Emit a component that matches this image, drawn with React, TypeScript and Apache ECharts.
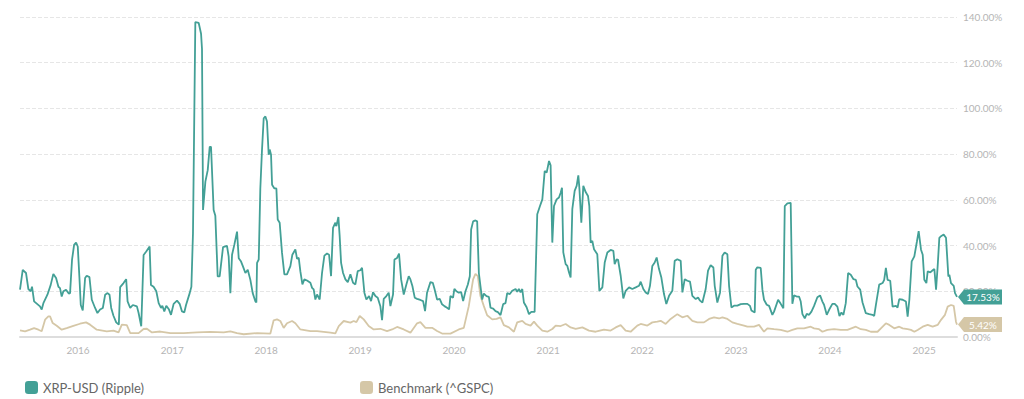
import React, { useEffect, useRef } from "react";
import * as echarts from "echarts";

// Decimal-year dates and rolling volatility (%)
const xrpYears = [
  2015.382, 2015.411, 2015.446, 2015.471, 2015.496, 2015.51, 2015.532, 2015.595, 2015.613, 2015.631,
  2015.674, 2015.709, 2015.737, 2015.766, 2015.791, 2015.808, 2015.826, 2015.844, 2015.872, 2015.901,
  2015.915, 2015.936, 2015.958, 2015.979, 2015.997, 2016.014, 2016.029, 2016.05, 2016.075, 2016.092,
  2016.121, 2016.146, 2016.181, 2016.206, 2016.234, 2016.263, 2016.288, 2016.313, 2016.334, 2016.352,
  2016.376, 2016.405, 2016.433, 2016.447, 2016.483, 2016.511, 2016.526, 2016.554, 2016.582, 2016.625,
  2016.643, 2016.671, 2016.696, 2016.724, 2016.76, 2016.774, 2016.802, 2016.831, 2016.856, 2016.881,
  2016.895, 2016.916, 2016.937, 2016.966, 2016.987, 2017.015, 2017.051, 2017.079, 2017.104, 2017.129,
  2017.147, 2017.186, 2017.204, 2017.221, 2017.246, 2017.282, 2017.307, 2017.317, 2017.328, 2017.353,
  2017.378, 2017.399, 2017.413, 2017.441, 2017.459, 2017.484, 2017.505, 2017.541, 2017.583, 2017.601,
  2017.619, 2017.637, 2017.661, 2017.69, 2017.708, 2017.733, 2017.754, 2017.779, 2017.804, 2017.832,
  2017.857, 2017.885, 2017.896, 2017.903, 2017.921, 2017.938, 2017.956, 2017.974, 2017.992, 2018.009,
  2018.027, 2018.038, 2018.052, 2018.063, 2018.088, 2018.109, 2018.123, 2018.144, 2018.169, 2018.194,
  2018.222, 2018.258, 2018.279, 2018.311, 2018.329, 2018.347, 2018.364, 2018.386, 2018.407, 2018.435,
  2018.471, 2018.489, 2018.506, 2018.524, 2018.542, 2018.57, 2018.595, 2018.62, 2018.648, 2018.67,
  2018.691, 2018.712, 2018.737, 2018.748, 2018.769, 2018.783, 2018.798, 2018.819, 2018.844, 2018.869,
  2018.897, 2018.925, 2018.95, 2018.975, 2019.003, 2019.021, 2019.046, 2019.067, 2019.096, 2019.117,
  2019.138, 2019.163, 2019.188, 2019.216, 2019.234, 2019.252, 2019.28, 2019.305, 2019.323, 2019.351,
  2019.366, 2019.394, 2019.415, 2019.437, 2019.465, 2019.493, 2019.518, 2019.536, 2019.557, 2019.582,
  2019.607, 2019.642, 2019.671, 2019.692, 2019.713, 2019.749, 2019.774, 2019.792, 2019.82, 2019.848,
  2019.873, 2019.898, 2019.926, 2019.948, 2019.962, 2019.99, 2020.004, 2020.026, 2020.051, 2020.076,
  2020.097, 2020.122, 2020.147, 2020.168, 2020.182, 2020.203, 2020.228, 2020.246, 2020.264, 2020.281,
  2020.299, 2020.317, 2020.345, 2020.37, 2020.388, 2020.416, 2020.441, 2020.466, 2020.494, 2020.522,
  2020.547, 2020.565, 2020.593, 2020.618, 2020.654, 2020.671, 2020.689, 2020.707, 2020.725, 2020.742,
  2020.771, 2020.796, 2020.821, 2020.856, 2020.884, 2020.913, 2020.938, 2020.963, 2020.984, 2021.009,
  2021.026, 2021.044, 2021.062, 2021.09, 2021.115, 2021.133, 2021.147, 2021.161, 2021.186, 2021.204,
  2021.222, 2021.239, 2021.257, 2021.282, 2021.303, 2021.321, 2021.332, 2021.353, 2021.374, 2021.399,
  2021.424, 2021.438, 2021.452, 2021.47, 2021.488, 2021.523, 2021.545, 2021.577, 2021.602, 2021.63,
  2021.665, 2021.694, 2021.708, 2021.729, 2021.744, 2021.772, 2021.8, 2021.825, 2021.861, 2021.896,
  2021.932, 2021.967, 2021.985, 2022.013, 2022.038, 2022.063, 2022.084, 2022.109, 2022.134, 2022.155,
  2022.18, 2022.205, 2022.233, 2022.258, 2022.287, 2022.322, 2022.347, 2022.375, 2022.411, 2022.429,
  2022.454, 2022.482, 2022.51, 2022.535, 2022.571, 2022.596, 2022.617, 2022.642, 2022.677, 2022.702,
  2022.73, 2022.759, 2022.773, 2022.801, 2022.83, 2022.855, 2022.879, 2022.908, 2022.926, 2022.951,
  2022.979, 2023.014, 2023.05, 2023.085, 2023.121, 2023.149, 2023.164, 2023.199, 2023.21, 2023.227,
  2023.263, 2023.281, 2023.298, 2023.327, 2023.352, 2023.387, 2023.405, 2023.448, 2023.476, 2023.504,
  2023.519, 2023.547, 2023.582, 2023.6, 2023.618, 2023.646, 2023.671, 2023.689, 2023.707, 2023.732,
  2023.753, 2023.778, 2023.803, 2023.831, 2023.866, 2023.895, 2023.92, 2023.937, 2023.966, 2023.991,
  2024.026, 2024.051, 2024.079, 2024.101, 2024.122, 2024.143, 2024.168, 2024.193, 2024.221, 2024.25,
  2024.275, 2024.292, 2024.321, 2024.346, 2024.381, 2024.417, 2024.452, 2024.47, 2024.488, 2024.523,
  2024.559, 2024.576, 2024.594, 2024.612, 2024.64, 2024.665, 2024.701, 2024.718, 2024.736, 2024.772,
  2024.807, 2024.825, 2024.843, 2024.868, 2024.896, 2024.924, 2024.942, 2024.967, 2024.985, 2025.002,
  2025.024, 2025.038, 2025.066, 2025.091, 2025.109, 2025.127, 2025.144, 2025.162, 2025.18, 2025.208,
  2025.233, 2025.258, 2025.269, 2025.286, 2025.315, 2025.329, 2025.35,
];

const xrpVol = [
  20.7, 29.4, 28, 21, 20, 22, 15.6, 13.4, 12, 14.8,
  18.5, 22.8, 27.6, 25.8, 22, 21.4, 17.7, 20, 20.7, 19,
  19.2, 33.8, 40.3, 41.3, 39.6, 26.5, 14, 11.6, 25.8, 26.8,
  26.2, 16.3, 12.7, 10.5, 12, 12.7, 18.5, 19.2, 18.5, 12.7,
  9.3, 6.4, 5.4, 21.8, 23.6, 25.3, 15.6, 12.7, 14, 13.4,
  10.5, 4.7, 35.9, 37.4, 39.6, 22.8, 22, 20, 14.8, 12.7,
  13.7, 11.2, 13.7, 12, 9.7, 14.5, 15.9, 14.5, 11.2, 10.8,
  14, 19.2, 22, 45.4, 137.8, 137.4, 132.7, 126, 55.6, 68,
  73, 83.2, 83.2, 55.6, 53, 26.5, 26.5, 39.3, 39.9, 35.2,
  19.2, 36, 40.3, 46.1, 34.5, 33, 30.8, 28, 29.4, 25,
  19.2, 15.6, 15.1, 32.4, 33.9, 65, 82, 95.7, 96.5, 94.3,
  79.7, 82, 79.7, 66.6, 65, 65, 51.4, 50, 36.8, 27.4,
  27.4, 31, 36, 38.3, 34.2, 34.6, 28.8, 23, 25.2, 24.7,
  23.7, 21.5, 20.8, 16.4, 18.6, 16.4, 28, 35.6, 36.5, 36,
  26.6, 47.7, 50, 48.5, 52.5, 44, 32.4, 28, 25.2, 24,
  27.4, 23.7, 23, 28.8, 29.2, 30.3, 19.4, 16.4, 17.9, 15.7,
  19.6, 17.9, 17.2, 13.5, 7.4, 16.7, 17.9, 19.4, 13.5, 18.6,
  33.9, 34.6, 36.5, 25.2, 18.6, 23, 26.6, 25.2, 22.3, 17.2,
  16.7, 16.2, 15.7, 11.3, 19.4, 24, 23.7, 21.1, 16.4, 16.7,
  14.3, 13.5, 12.8, 12.1, 17.9, 17.2, 21.1, 20, 19.4, 19.6,
  15.7, 20, 23, 26.6, 47, 50.6, 51, 50.6, 28, 22.3,
  16.4, 19, 17.9, 17.6, 12.8, 12.4, 11.3, 10.9, 9.6, 14.4,
  14.8, 19.2, 18.8, 20.2, 21, 19.8, 21, 19.5, 21, 15.1,
  13, 10, 11, 11, 53.7, 57.3, 60.2, 72.6, 71.9, 77,
  75.1, 41.3, 57.3, 60.2, 61, 63.1, 65.3, 37, 31.9, 31.1,
  28.2, 26, 55.9, 63.9, 66.1, 70.7, 65.3, 50, 66.1, 63.4,
  61.7, 57.3, 41.3, 42, 38.4, 36.2, 20.2, 21.7, 32.6, 37,
  38.1, 37.7, 31.9, 34, 33.8, 26.8, 16.9, 20.2, 21.7, 21,
  21.7, 22.4, 24.2, 21, 19.5, 18.8, 22.4, 31.1, 32.6, 34.8,
  29.7, 26, 18.8, 14.4, 18, 20.2, 33.3, 34, 33.3, 19.5,
  25.3, 24.6, 24.2, 18, 16.6, 17.3, 15.9, 15.1, 21, 29,
  31.4, 30.4, 22.4, 15.1, 19.5, 35.5, 37, 36.2, 22.4, 12.9,
  13.7, 13.7, 14.4, 14.5, 14.5, 13.6, 11.6, 10.7, 29.4, 30.5,
  30.2, 20.7, 16.3, 14.1, 13.6, 9.7, 11.1, 16.3, 14.5, 12.6,
  57.3, 58.5, 58.7, 14.5, 18.2, 17.7, 17.7, 15.5, 10, 8.2,
  10.1, 9.7, 11.1, 13.6, 17.4, 18.2, 15.5, 14.1, 9.7, 11.9,
  14.5, 14.5, 13.3, 9.2, 10.7, 9.7, 14.8, 28, 27.2, 25.3,
  25, 22.1, 20.7, 15.1, 10.4, 10, 9.7, 9.2, 14.1, 22.9,
  23.6, 25, 30.2, 25, 24.6, 13.3, 13.6, 12.9, 16.6, 16.3,
  15.5, 8.9, 16.3, 33.1, 35.3, 41.9, 46.3, 38.2, 36, 25,
  23.6, 28.7, 28.3, 29.2, 29.7, 20.7, 30.9, 43.4, 44.1, 44.8,
  43.4, 26.5, 27.2, 23.6, 22.4, 19.2, 17.53,
];

const benchYears = [
  2015.382, 2015.436, 2015.489, 2015.532, 2015.578, 2015.613, 2015.649, 2015.684, 2015.702, 2015.73,
  2015.773, 2015.826, 2015.879, 2015.95, 2016.021, 2016.085, 2016.128, 2016.199, 2016.305, 2016.376,
  2016.43, 2016.465, 2016.518, 2016.554, 2016.643, 2016.696, 2016.731, 2016.785, 2016.873, 2016.98,
  2017.122, 2017.264, 2017.406, 2017.548, 2017.619, 2017.69, 2017.761, 2017.903, 2018.045, 2018.08,
  2018.116, 2018.151, 2018.187, 2018.222, 2018.276, 2018.311, 2018.364, 2018.471, 2018.542, 2018.684,
  2018.737, 2018.773, 2018.826, 2018.897, 2018.932, 2018.961, 2018.996, 2019.039, 2019.092, 2019.145,
  2019.216, 2019.287, 2019.341, 2019.394, 2019.465, 2019.536, 2019.607, 2019.642, 2019.696, 2019.767,
  2019.82, 2019.873, 2019.962, 2020.051, 2020.104, 2020.157, 2020.203, 2020.228, 2020.253, 2020.281,
  2020.317, 2020.352, 2020.406, 2020.452, 2020.494, 2020.529, 2020.583, 2020.636, 2020.671, 2020.725,
  2020.76, 2020.813, 2020.849, 2020.884, 2020.938, 2020.991, 2021.044, 2021.08, 2021.133, 2021.186,
  2021.239, 2021.293, 2021.364, 2021.435, 2021.506, 2021.594, 2021.665, 2021.719, 2021.772, 2021.825,
  2021.878, 2021.949, 2021.985, 2022.056, 2022.109, 2022.162, 2022.198, 2022.251, 2022.304, 2022.375,
  2022.429, 2022.482, 2022.535, 2022.588, 2022.659, 2022.713, 2022.766, 2022.819, 2022.855, 2022.908,
  2022.961, 2023.014, 2023.085, 2023.121, 2023.192, 2023.245, 2023.298, 2023.334, 2023.405, 2023.476,
  2023.547, 2023.6, 2023.653, 2023.724, 2023.795, 2023.831, 2023.884, 2023.92, 2023.973, 2024.044,
  2024.115, 2024.186, 2024.275, 2024.328, 2024.381, 2024.434, 2024.505, 2024.541, 2024.594, 2024.63,
  2024.683, 2024.736, 2024.772, 2024.825, 2024.86, 2024.896, 2024.931, 2024.985, 2025.038, 2025.091,
  2025.144, 2025.18, 2025.222, 2025.251, 2025.286, 2025.315, 2025.339, 2025.35,
];

const benchVol = [
  2.9, 2.5, 3.2, 3.9, 3.2, 2.5, 7.6, 9, 9, 6.1,
  4.9, 3.2, 3.9, 4.9, 5.8, 6.4, 5.4, 3.2, 2.5, 2.8,
  2, 5.4, 5.2, 1.7, 1.7, 3.5, 3.6, 2, 2.4, 1.7,
  1.7, 2, 2.2, 2, 2.5, 1.7, 1.2, 1.7, 1.5, 7.3,
  7.7, 7, 4, 6, 7, 6, 3.3, 2.6, 2.6, 1.9,
  1.6, 4.8, 7, 6.3, 7, 6.5, 9.2, 7.7, 4.8, 3.3,
  3.6, 2.6, 3.3, 4.4, 3.3, 1.9, 6, 6.5, 4, 4,
  2.6, 1.5, 1.5, 3.3, 4, 13.5, 25.2, 27.6, 26.6, 17.9,
  13.5, 9.5, 7.7, 7.9, 8.6, 5.2, 4.2, 2.3, 6.4, 7.1,
  5.7, 5, 6.7, 5, 2.8, 2.3, 3.5, 5, 4.8, 5.7,
  4.2, 3.6, 4.2, 2.8, 2.3, 3.2, 2.8, 4.2, 5.2, 2.8,
  2.3, 5, 5.7, 5, 6.4, 6.7, 7.1, 5.7, 7.9, 10,
  8.6, 9.3, 7.1, 6.4, 6.4, 7.9, 8.6, 8.1, 8.6, 7.9,
  6.4, 5.7, 5, 4.5, 4.5, 5.3, 2.3, 3.8, 3.4, 3.1,
  2.3, 3.1, 3.8, 3.8, 4.5, 3.8, 3.4, 2.3, 3.1, 3.4,
  3.1, 3.1, 4.5, 3.4, 3.1, 2.3, 2.3, 3.8, 6, 5.3,
  3.8, 4.5, 3.8, 3.4, 3.1, 2.3, 3.1, 4.5, 5.3, 4.5,
  5.3, 7.5, 9.7, 13.3, 14, 13.6, 6.7, 5.42,
];

const seriesNames = ["XRP-USD (Ripple)", "Benchmark (^GSPC)"];
const yTicks = [0, 20, 40, 60, 80, 100, 120, 140];

const XRP_COLOR = "#43a096";
const BENCH_COLOR = "#d5c7a7";
const YEAR_MS = 365.25 * 24 * 3600 * 1000;

function yearToTime(y: number): number {
  const yr = Math.floor(y);
  const start = Date.UTC(yr, 0, 1);
  const end = Date.UTC(yr + 1, 0, 1);
  return start + (y - yr) * (end - start);
}

const tagPath = "path://M0,7 L6,0 L44,0 L44,14 L6,14 Z";

export default function App() {
  const ref = useRef<HTMLDivElement>(null);

  useEffect(() => {
    if (!ref.current) return;
    const chart = echarts.init(ref.current, undefined, { renderer: "svg" });
    const xrpData = xrpYears.map((y, i) => [yearToTime(y), xrpVol[i]]);
    const benchData = benchYears.map((y, i) => [yearToTime(y), benchVol[i]]);
    const lastX = xrpData[xrpData.length - 1];
    const lastB = benchData[benchData.length - 1];

    const tag = (pt: number[], color: string) => ({
      silent: true,
      symbol: tagPath,
      symbolSize: [44, 15],
      symbolOffset: [23, 0],
      symbolKeepAspect: false,
      itemStyle: { color },
      label: {
        show: true,
        position: "inside",
        offset: [3, 0],
        color: "#ffffff",
        fontSize: 10,
        fontFamily: "Lato",
        formatter: () => (pt[1] as number).toFixed(2) + "%",
      },
      data: [{ coord: pt }],
    });

    chart.setOption({
      animation: false,
      textStyle: { fontFamily: "Lato" },
      grid: { left: 20, right: 67, top: 17, bottom: 62, containLabel: false },
      legend: [
        {
          data: [seriesNames[0]],
          left: 20,
          top: 376,
          icon: "roundRect",
          itemWidth: 13,
          itemHeight: 13,
          textStyle: { color: "#666", fontSize: 13, fontFamily: "Lato" },
        },
        {
          data: [seriesNames[1]],
          left: 355,
          top: 376,
          icon: "roundRect",
          itemWidth: 13,
          itemHeight: 13,
          textStyle: { color: "#666", fontSize: 13, fontFamily: "Lato" },
        },
      ],
      xAxis: {
        type: "time",
        min: xrpData[0][0],
        max: lastX[0],
        minInterval: YEAR_MS,
        maxInterval: YEAR_MS,
        splitNumber: 10,
        splitLine: { show: false },
        axisTick: { show: false },
        axisLine: { show: true, lineStyle: { color: "#dddddd", width: 2 } },
        axisLabel: {
          color: "#b5b5b5",
          fontSize: 10,
          margin: 8,
          formatter: "{yyyy}",
        },
      },
      yAxis: {
        type: "value",
        position: "right",
        min: yTicks[0],
        max: yTicks[yTicks.length - 1],
        interval: 20,
        axisLine: { show: false },
        axisTick: { show: false },
        splitLine: { show: true, lineStyle: { color: "#e6e6e6", type: "dashed", width: 1 } },
        axisLabel: {
          color: "#b5b5b5",
          fontSize: 10,
          margin: 6,
          formatter: (v: number) => v.toFixed(2) + "%",
        },
      },
      series: [
        {
          name: seriesNames[0],
          type: "line",
          data: xrpData,
          showSymbol: false,
          symbol: "none",
          color: XRP_COLOR,
          lineStyle: { color: XRP_COLOR, width: 1.8 },
          z: 3,
          markPoint: tag(lastX, XRP_COLOR),
        },
        {
          name: seriesNames[1],
          type: "line",
          data: benchData,
          showSymbol: false,
          symbol: "none",
          color: BENCH_COLOR,
          lineStyle: { color: BENCH_COLOR, width: 1.8 },
          z: 2,
          markPoint: tag(lastB, BENCH_COLOR),
        },
      ],
    });
    return () => chart.dispose();
  }, []);

  return (
    <div
      ref={ref}
      style={{ position: "fixed", left: 0, top: 0, width: 1024, height: 399, background: "#fff" }}
    />
  );
}
